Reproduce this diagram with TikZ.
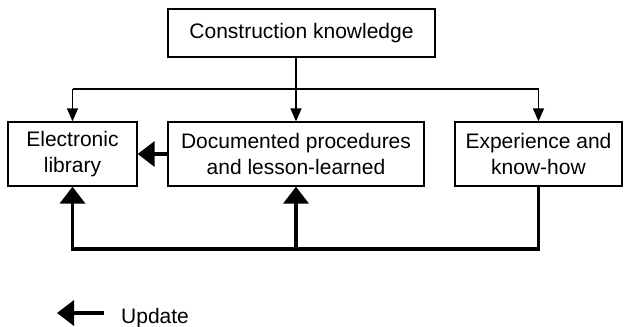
\documentclass[tikz,border=0pt]{standalone}
\usepackage{fontspec}
\setmainfont{Liberation Sans}
\usetikzlibrary{arrows.meta,positioning}

\begin{document}
\begin{tikzpicture}[x=1pt,y=-1pt,
  box/.style={rectangle, draw, line width=1.3pt, inner sep=0pt, align=center, font=\fontsize{21}{25.5}\selectfont},
  feed/.style={-{Triangle[width=11pt,length=13pt]}, line width=1.3pt},
  updtip/.style={-{Triangle[width=25pt,length=17pt]}, line width=3.5pt}]
  \useasboundingbox (0,0) rectangle (625,327);
  \node [box, minimum width=267pt, minimum height=48pt] (know) at (301.5,33) {Construction knowledge};
  \node [box, minimum width=129pt, minimum height=64pt] (elib) at (72.5,154) {Electronic\\library};
  \node [box, minimum width=256pt, minimum height=64pt] (docs) at (296,154) {Documented procedures\\and lesson-learned};
  \node [box, minimum width=167pt, minimum height=64pt] (exp) at (538.5,154) {Experience and\\know-how};
  \coordinate (split) at (296,89);
  \coordinate (base) at (296,249);
  % knowledge feeds the three stores
  \draw [line width=1.3pt] (elib.north |- split) -- (exp.north |- split);
  \draw [feed] (know.south -| docs.north) -- (docs.north);
  \draw [feed] (elib.north |- split) -- (elib.north);
  \draw [feed] (exp.north |- split) -- (exp.north);
  % updates
  \draw [updtip] (docs.west) -- (elib.east);
  \draw [updtip] (exp.south) |- (base) -| (elib.south);
  \draw [updtip] (base) -- (docs.south);
  % legend
  \coordinate (updtail) at (104,313);
  \coordinate (updhead) at (57,313);
  \draw [updtip] (updtail) -- (updhead);
  \node [anchor=base west, inner sep=0pt, font=\fontsize{21}{25.5}\selectfont] (updlbl) at (121,323) {Update};
\end{tikzpicture}
\end{document}
